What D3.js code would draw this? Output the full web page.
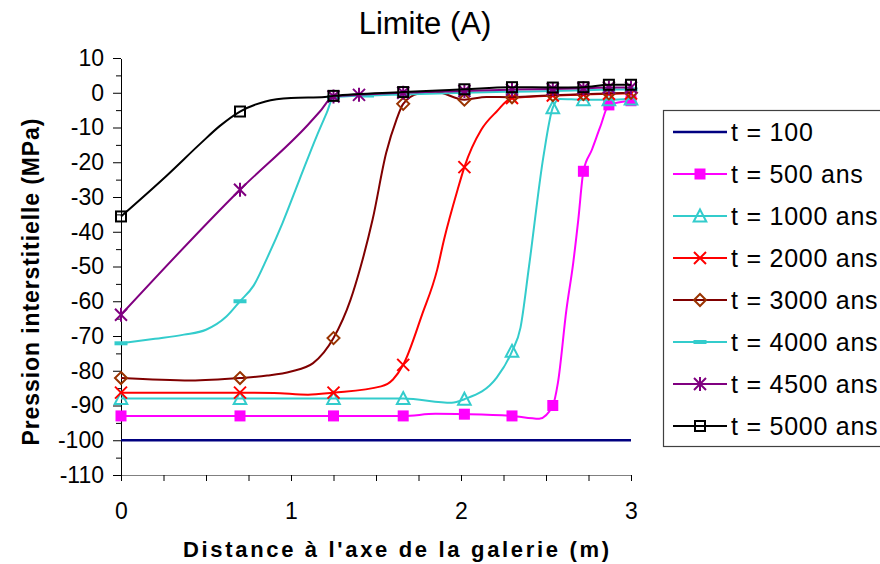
<!DOCTYPE html>
<html><head><meta charset="utf-8">
<script src="https://cdn.jsdelivr.net/npm/d3@7"></script>
<style>body{margin:0;background:#fff}text{font-family:"Liberation Sans",Arial,sans-serif}</style>
</head><body><svg id="c" width="880" height="564"></svg>
<script>
// ---------- data ----------
const TITLE = "Limite (A)";
const X_LABEL = "Distance à l'axe de la galerie (m)";
const Y_LABEL = "Pression interstitielle  (MPa)";
const X_TICKS = [0, 1, 2, 3];
const X_MINOR = [0, 0.25, 0.5, 0.75, 1, 1.25, 1.5, 1.75, 2, 2.25, 2.5, 2.75, 3];
const Y_TICKS = [10, 0, -10, -20, -30, -40, -50, -60, -70, -80, -90, -100, -110];
const Y_MINOR = [5, -5, -15, -25, -35, -45, -55, -65, -75, -85, -95, -105];
const LABELS = ["t = 100", "t = 500 ans", "t = 1000 ans", "t = 2000 ans", "t = 3000 ans", "t = 4000 ans", "t = 4500 ans", "t = 5000 ans"];
const MARK_X = [0, 0.70, 1.25, 1.66, 2.02, 2.30, 2.54, 2.72, 2.87, 3.00];

const T100 = [[0, -100], [3, -100]];
const T500 = [[0, -93], [0.7, -93], [1.25, -93], [1.66, -93], [1.85, -92.4], [2.02, -92.5], [2.30, -93], [2.46, -93.8], [2.54, -90], [2.57, -83.5], [2.62, -62.5], [2.66, -49], [2.69, -36.5], [2.72, -22.6], [2.77, -16.4], [2.82, -9.7], [2.87, -3.5], [3.0, -2.3]];
const T1000 = [[0, -88], [0.7, -88], [1.25, -88], [1.66, -88], [1.945, -89.2], [2.02, -88.2], [2.21, -82], [2.30, -74.4], [2.35, -67.6], [2.40, -50], [2.485, -18.3], [2.54, -4.3], [2.58, -1.8], [2.72, -2], [2.87, -2], [3.0, -1.8]];
const T2000 = [[0, -86.3], [0.7, -86.3], [0.9, -86.4], [1.1, -86.9], [1.25, -86.3], [1.53, -84.5], [1.6, -82.5], [1.66, -78.3], [1.77, -64], [1.86, -50.9], [1.9, -42.3], [1.98, -27.9], [2.02, -21.4], [2.12, -10.6], [2.21, -5.4], [2.30, -1.5], [2.54, -0.8], [2.72, -0.5], [2.87, -0.3], [3.0, -0.2]];
const T3000 = [[0, -82.1], [0.41, -82.8], [0.7, -82.1], [0.86, -81.4], [1.0, -80.2], [1.13, -77.8], [1.25, -70.6], [1.35, -59.6], [1.41, -50], [1.48, -36.5], [1.56, -17.3], [1.62, -7.8], [1.66, -3.2], [1.75, -0.2], [1.85, 0.3], [2.02, -2], [2.15, -1.2], [2.30, -1.3], [2.54, -0.7], [2.72, -0.4], [2.87, -0.2], [3.0, 0]];
const T4000 = [[0, -72.1], [0.2, -70.8], [0.37, -69.6], [0.5, -68.2], [0.62, -64.4], [0.7, -60], [0.78, -55.5], [0.86, -47.5], [0.95, -37.5], [1.05, -25], [1.15, -12.6], [1.21, -5.8], [1.25, -1.3], [1.45, -0.8], [1.66, -0.5], [2.02, 0], [2.30, 0.3], [2.54, 0.5], [2.72, 0.7], [2.87, 0.9], [3.0, 1.0]];
const T4500 = [[0, -63.9], [0.7, -27.9], [1.1, -9.2], [1.17, -5.4], [1.25, -1.1], [1.4, -0.6], [1.66, 0], [2.02, 0.5], [2.30, 0.9], [2.54, 1.1], [2.72, 1.3], [2.87, 1.5], [3.0, 1.5]];
const T5000 = [[0, -35.6], [0.27, -23.8], [0.47, -14.5], [0.58, -9.6], [0.7, -5.4], [0.85, -2.5], [1.0, -1.5], [1.2, -1.2], [1.25, -0.9], [1.66, 0.2], [2.02, 1.0], [2.30, 1.6], [2.54, 1.5], [2.72, 1.6], [2.87, 2.3], [3.0, 2.3]];

const SERIES = [
  {data: T100, line: "#000080", mark: null, w: 2.5, extra: []},
  {data: T500, line: "#FF00FF", mark: "sqfill", mc: "#FF00FF", w: 2, extra: []},
  {data: T1000, line: "#33CCCC", mark: "tri", mc: "#33CCCC", w: 2, extra: []},
  {data: T2000, line: "#FF0000", mark: "x", mc: "#FF0000", w: 2, extra: []},
  {data: T3000, line: "#800000", mark: "diamond", mc: "#993300", w: 2, extra: []},
  {data: T4000, line: "#33CCCC", mark: "dash", mc: "#33CCCC", w: 2, extra: [1.45]},
  {data: T4500, line: "#800080", mark: "star", mc: "#800080", w: 2, extra: [1.4]},
  {data: T5000, line: "#000000", mark: "sqopen", mc: "#000000", w: 2, extra: []}
];

// ---------- drawing ----------
const svg = d3.select("#c");
const x = d3.scaleLinear().domain([0, 3]).range([121, 631]);
const y = d3.scaleLinear().domain([-110, 10]).range([475, 58]);
const FONT = '"Liberation Sans",Arial,sans-serif';

function drawMarker(g, type, c) {
  if (type === "sqfill") g.append("rect").attr("x", -5.5).attr("y", -5.5).attr("width", 11).attr("height", 11).attr("fill", c);
  else if (type === "tri") g.append("path").attr("d", "M0,-6.5L6.3,5.5L-6.3,5.5Z").attr("fill", "none").attr("stroke", c).attr("stroke-width", 2);
  else if (type === "x") g.append("path").attr("d", "M-6,-6L6,6M-6,6L6,-6").attr("stroke", c).attr("stroke-width", 2);
  else if (type === "diamond") g.append("path").attr("d", "M0,-6L6,0L0,6L-6,0Z").attr("fill", "none").attr("stroke", c).attr("stroke-width", 2);
  else if (type === "dash") g.append("rect").attr("x", -6.5).attr("y", -2).attr("width", 13).attr("height", 4).attr("fill", c);
  else if (type === "star") g.append("path").attr("d", "M-6,-6L6,6M-6,6L6,-6M0,-7L0,7").attr("stroke", c).attr("stroke-width", 2);
  else if (type === "sqopen") g.append("rect").attr("x", -5).attr("y", -5).attr("width", 10).attr("height", 10).attr("fill", "none").attr("stroke", c).attr("stroke-width", 2);
}

// title
svg.append("text").attr("x", 425).attr("y", 34).attr("text-anchor", "middle").attr("font-size", 31).text(TITLE);

// y axis
const yMinor = svg.append("g").attr("transform", "translate(121,0)")
  .call(d3.axisLeft(y).tickValues(Y_MINOR).tickSize(5).tickFormat(""));
yMinor.select(".domain").remove();
yMinor.selectAll("line").attr("stroke", "#000");
const yAx = svg.append("g").attr("transform", "translate(121,0)")
  .call(d3.axisLeft(y).tickValues(Y_TICKS).tickSize(8).tickSizeOuter(0).tickPadding(9).tickFormat(d => String(d)));
yAx.selectAll("text").attr("font-size", 23).attr("font-family", FONT).attr("fill", "#000");
yAx.selectAll("line").attr("stroke", "#000");
yAx.select(".domain").attr("stroke", "#000");

// x axis
const xAx = svg.append("g").attr("transform", "translate(0,475)")
  .call(d3.axisBottom(x).tickValues(X_MINOR).tickSize(6).tickSizeOuter(0).tickPadding(22)
    .tickFormat(d => X_TICKS.includes(d) ? String(d) : ""));
xAx.selectAll("text").attr("font-size", 23).attr("font-family", FONT).attr("fill", "#000");
xAx.selectAll("line").attr("stroke", "#000");
xAx.select(".domain").attr("stroke", "#808080").attr("stroke-width", 1.5);
svg.selectAll(".domain").attr("shape-rendering", "crispEdges");

// axis titles
svg.append("text").attr("x", 396).attr("y", 557).attr("text-anchor", "middle")
  .attr("font-size", 22).attr("font-weight", "bold")
  .attr("textLength", 426).attr("lengthAdjust", "spacing").text(X_LABEL);
svg.append("text").attr("transform", "translate(39,282) rotate(-90)").attr("text-anchor", "middle")
  .attr("font-size", 23).attr("font-weight", "bold")
  .attr("textLength", 327).attr("lengthAdjust", "spacing").text(Y_LABEL);

// series
const lineGen = d3.line().x(d => x(d[0])).y(d => y(d[1])).curve(d3.curveMonotoneX);
SERIES.forEach(s => {
  svg.append("path").datum(s.data).attr("d", lineGen).attr("fill", "none")
    .attr("stroke", s.line).attr("stroke-width", s.w).attr("stroke-linejoin", "round");
  if (s.mark) {
    const xs = MARK_X.concat(s.extra);
    s.data.filter(d => xs.some(m => Math.abs(m - d[0]) < 1e-6)).forEach(d => {
      const g = svg.append("g").attr("transform", `translate(${x(d[0])},${y(d[1])})`);
      drawMarker(g, s.mark, s.mc);
    });
  }
});

// legend
svg.append("rect").attr("x", 663.5).attr("y", 110.5).attr("width", 240).attr("height", 336)
  .attr("fill", "#fff").attr("stroke", "#404040").attr("stroke-width", 1.2);
SERIES.forEach((s, i) => {
  const cy = 132 + i * 42;
  svg.append("line").attr("x1", 673).attr("x2", 727).attr("y1", cy).attr("y2", cy)
    .attr("stroke", s.line).attr("stroke-width", s.w);
  if (s.mark) drawMarker(svg.append("g").attr("transform", `translate(700,${cy})`), s.mark, s.mc);
  const t = svg.append("text").attr("x", 731).attr("y", cy + 9).attr("font-size", 25).text(LABELS[i]);
  const w = t.node().getComputedTextLength();
  t.attr("textLength", w * 1.06).attr("lengthAdjust", "spacing");
});
</script></body></html>
